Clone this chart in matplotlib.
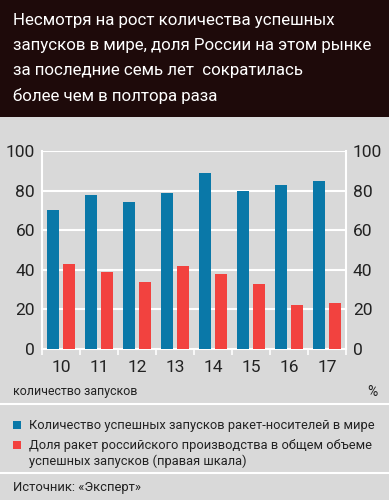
import numpy as np
import matplotlib.pyplot as plt
from matplotlib.patches import Rectangle
from matplotlib.lines import Line2D

# данные
years = ["10", "11", "12", "13", "14", "15", "16", "17"]
launches = [70, 78, 74, 79, 89, 80, 83, 85]
russia_share = [43, 39, 34, 42, 38, 33, 22, 23]

blue = "#0a78a8"
red = "#f2423f"
bg = "#d9d9d9"
dark = "#222222"
plt.rcParams["font.family"] = ["Roboto", "DejaVu Sans"]

W, H = 389, 500
fig = plt.figure(figsize=(W / 100, H / 100), dpi=100, facecolor=bg)
renderer = fig.canvas.get_renderer()


def fit(txt, width_px):
    # подгоняем размер шрифта под ширину строки как в оригинале
    bb = txt.get_window_extent(renderer)
    txt.set_fontsize(txt.get_fontsize() * width_px / bb.width)
    return txt


# заголовок
fig.patches.append(Rectangle((0, 1 - 117 / H), 1, 117 / H, transform=fig.transFigure,
                             facecolor="#1e0a0a", edgecolor="none"))
title = ["Несмотря на рост количества успешных",
         "запусков в мире, доля России на этом рынке",
         "за последние семь лет  сократилась",
         "более чем в полтора раза"]
tt = [fig.text(13 / W, 1 - (20 + i * 25.3) / H, t, color="white", fontsize=14,
               va="center", ha="left") for i, t in enumerate(title)]
fit(tt[1], 363)
for t in tt:
    t.set_fontsize(tt[1].get_fontsize())

ax = fig.add_axes([42 / W, 1 - 349 / H, 304 / W, 198 / H])
ax.set_facecolor(bg)
x = np.arange(len(years))
w = 0.32
ax.bar(x - 0.04 - w / 2, launches, w, color=blue, zorder=3)
ax.bar(x + 0.04 + w / 2, russia_share, w, color=red, zorder=3)
ax.set_xlim(-0.5, len(years) - 0.5)
ax.set_ylim(0, 100)
ax.set_yticks(range(0, 101, 20))
for v in range(20, 101, 20):
    ax.axhline(v, color="white", lw=1.5, zorder=1)
ax.set_xticks(x)
ax.set_xticklabels(years)
ax.set_xticks(np.arange(-0.5, len(years), 1), minor=True)
ax.tick_params(axis="x", which="major", length=0, pad=8, labelsize=12.5, colors=dark)
ax.tick_params(axis="x", which="minor", length=4, width=1.2, color="white", direction="out")
ax.tick_params(axis="y", length=0, pad=5, labelsize=12.5, colors=dark)
ax.spines["top"].set_visible(False)
for s in ["left", "bottom", "right"]:
    ax.spines[s].set_color("white")
    ax.spines[s].set_linewidth(1.5)

ax2 = ax.twinx()
ax2.set_ylim(0, 100)
ax2.set_yticks(range(0, 101, 20))
ax2.tick_params(axis="y", length=0, pad=5, labelsize=12.5, colors=dark)
for s in ax2.spines.values():
    s.set_visible(False)

# подписи осей
lbl = fig.text(13 / W, 1 - 392 / H, "количество запусков", fontsize=10, color=dark, va="center")
fig.text(378 / W, 1 - 392 / H, "%", fontsize=10, color=dark, va="center", ha="right")

# разделители
for yy in [404, 473]:
    fig.lines.append(Line2D([0, 1], [1 - yy / H] * 2, transform=fig.transFigure,
                            color="white", lw=1.5))

# легенда
fig.patches.append(Rectangle((13 / W, 1 - 429 / H), 8 / W, 8 / H, transform=fig.transFigure,
                             facecolor=blue, edgecolor="none"))
fig.patches.append(Rectangle((13 / W, 1 - 449 / H), 8 / W, 8 / H, transform=fig.transFigure,
                             facecolor=red, edgecolor="none"))
leg = [fig.text(29 / W, 1 - 425 / H, "Количество успешных запусков ракет-носителей в мире",
                fontsize=10, color=dark, va="center"),
       fig.text(29 / W, 1 - 445 / H, "Доля ракет российского производства в общем объеме",
                fontsize=10, color=dark, va="center"),
       fig.text(29 / W, 1 - 461 / H, "успешных запусков (правая шкала)",
                fontsize=10, color=dark, va="center")]
fit(leg[0], 347)
for t in leg[1:]:
    t.set_fontsize(leg[0].get_fontsize())

src = fig.text(13 / W, 1 - 487 / H, "Источник: «Эксперт»", fontsize=10, color=dark, va="center")
fit(src, 128)
fit(lbl, 125)

fig.savefig("out.png", dpi=100, facecolor=bg)
